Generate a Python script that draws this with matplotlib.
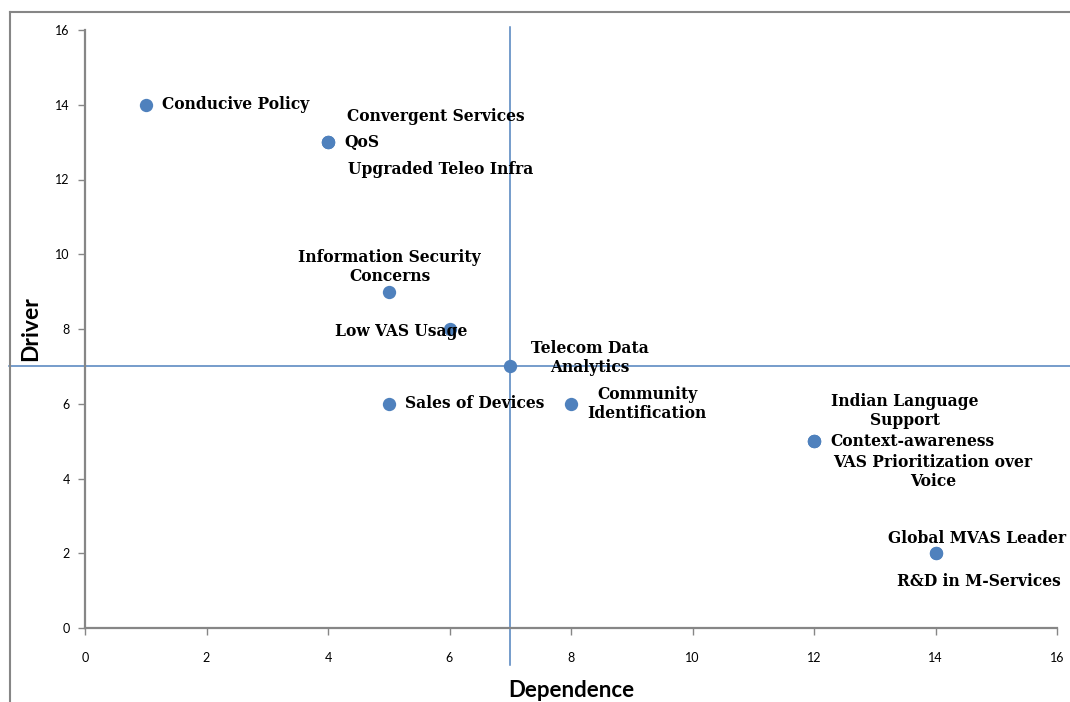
import matplotlib.pyplot as plt
from matplotlib.lines import Line2D

# MICMAC-style driver / dependence map
factors = [
    "Conducive Policy",
    "Convergent Services",
    "QoS",
    "Upgraded Teleo Infra",
    "Information Security\nConcerns",
    "Low VAS Usage",
    "Telecom Data\nAnalytics",
    "Sales of Devices",
    "Community\nIdentification",
    "Indian Language\nSupport",
    "Context-awareness",
    "VAS Prioritization over\nVoice",
    "Global MVAS Leader",
    "R&D in M-Services",
]
dependence = [1, 4, 4, 4, 5, 6, 7, 5, 8, 12, 12, 12, 14, 14]
driver = [14, 13, 13, 13, 9, 8, 7, 6, 6, 5, 5, 5, 2, 2]

# quadrant split
dep_cut = 7
drv_cut = 7

# label placement: offset in pixels from the point, horizontal alignment
label_offsets = [
    (16, 0, "left"),
    (19, 26, "left"),
    (16, 0, "left"),
    (20, -27, "left"),
    (1, 25, "center"),
    (-48, -2, "center"),
    (80, 8, "center"),
    (16, 0, "left"),
    (76, 0, "center"),
    (91, 30, "center"),
    (16, 0, "left"),
    (119, -31, "center"),
    (42, 15, "center"),
    (43, -28, "center"),
]

grey = "#868686"
blue = "#4f81bd"

fig = plt.figure(figsize=(10.7, 7.02), dpi=100)
ax = fig.add_axes([85 / 1070, 74 / 702, 972 / 1070, 598 / 702])

ax.scatter(dependence, driver, s=92, color=blue, zorder=3, linewidths=0)

for name, x, y, (dx, dy, ha) in zip(factors, dependence, driver, label_offsets):
    ax.annotate(name, (x, y), xytext=(dx, dy), textcoords="offset pixels",
                ha=ha, va="center", multialignment="center",
                fontfamily="DejaVu Serif", fontweight="bold", fontsize=11.2,
                linespacing=1.15, zorder=4)

ax.axvline(dep_cut, ymin=-0.062, ymax=1.005, color=blue, lw=1.1, clip_on=False, zorder=2)
ax.axhline(drv_cut, xmin=-0.078, xmax=1.02, color=blue, lw=1.1, clip_on=False, zorder=2)

ax.set_xlim(0, 16)
ax.set_ylim(0, 16)
ax.set_xticks(range(0, 17, 2))
ax.set_yticks(range(0, 17, 2))

for side in ("top", "right"):
    ax.spines[side].set_visible(False)
for side in ("left", "bottom"):
    ax.spines[side].set_color(grey)
    ax.spines[side].set_linewidth(1.6)

ax.tick_params(axis="both", direction="out", length=5, width=1, color=grey,
               labelsize=9, labelcolor="black")
ax.tick_params(axis="x", pad=12)
ax.tick_params(axis="y", pad=6)
for lbl in ax.get_xticklabels() + ax.get_yticklabels():
    lbl.set_fontfamily("Lato")

ax.set_xlabel("Dependence", fontfamily="Lato", fontweight="bold", fontsize=16, labelpad=12)
ax.set_ylabel("Driver", fontfamily="Lato", fontweight="bold", fontsize=16.5, labelpad=10)

# outer chart frame (left and top edges)
fig.add_artist(Line2D([10 / 1070, 10 / 1070], [0, 1 - 12 / 702],
                      transform=fig.transFigure, color=grey, lw=1.5))
fig.add_artist(Line2D([10 / 1070, 1], [1 - 12 / 702, 1 - 12 / 702],
                      transform=fig.transFigure, color=grey, lw=1.5))

fig.savefig("out.png", dpi=100)
